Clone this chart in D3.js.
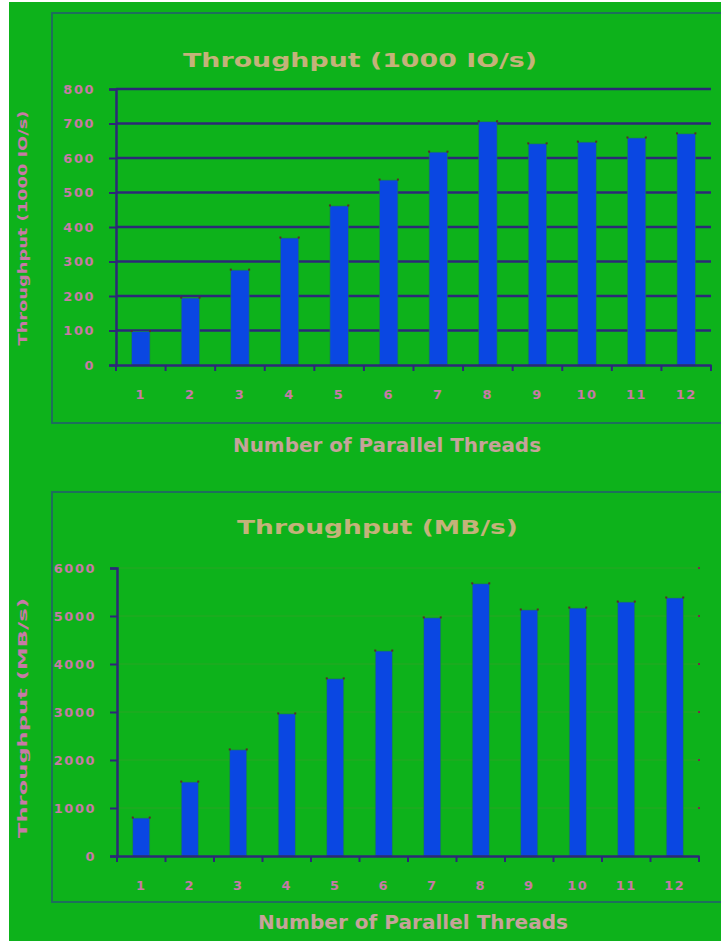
<!DOCTYPE html>
<html>
<head>
<meta charset="utf-8">
<script src="https://cdn.jsdelivr.net/npm/d3@7"></script>
<style>
  html, body { margin: 0; padding: 0; background: #ffffff; }
  svg { display: block; }
  text { font-family: "DejaVu Sans", "Liberation Sans", sans-serif; }
</style>
</head>
<body>
<svg id="chart" width="721" height="941"></svg>
<script>
// Thread counts on the x axis
const threads = ["1", "2", "3", "4", "5", "6", "7", "8", "9", "10", "11", "12"];
// Upper panel: operation throughput per thread count
const iopsValues = [97, 194, 275, 368, 461, 536, 617, 705, 641, 646, 658, 670];
const iopsTicks = [0, 100, 200, 300, 400, 500, 600, 700, 800];
// Lower panel: data throughput per thread count
const mbValues = [790, 1540, 2210, 2960, 3690, 4270, 4960, 5670, 5125, 5165, 5290, 5375];
const mbTicks = [0, 1000, 2000, 3000, 4000, 5000, 6000];

const titles = ["Throughput (1000 IO/s)", "Throughput (MB/s)"];
const xTitle = "Number of Parallel Threads";

const svg = d3.select("#chart");
const GREEN = "#0db21b";
const NAVY = "#2c2878";
const BAR = "#0a47e2";
const FRAME = "#1d6f5c";
const TITLE_FILL = "#c4b27a";
const TICK_FILL = "#c77aa6";
const AXIS_TITLE_FILL = "#c6a39a";

svg.append("rect").attr("x", 9).attr("y", 2).attr("width", 712).attr("height", 939).attr("fill", GREEN);

function drawPanel(cfg) {
  const g = svg.append("g");

  // panel frame
  g.append("rect")
    .attr("x", 52).attr("y", cfg.frameTop)
    .attr("width", 690).attr("height", cfg.frameBottom - cfg.frameTop)
    .attr("fill", "none").attr("stroke", FRAME).attr("stroke-width", 2);

  const x = d3.scaleBand().domain(threads).range(cfg.xRange).paddingInner(0).paddingOuter(0);
  const y = d3.scaleLinear().domain([0, d3.max(cfg.ticks)]).range(cfg.yRange);

  // horizontal gridlines
  g.append("g").selectAll("line")
    .data(cfg.ticks.filter(t => t > 0))
    .join("line")
    .attr("x1", cfg.xRange[0]).attr("x2", cfg.xRange[1])
    .attr("y1", d => y(d)).attr("y2", d => y(d))
    .attr("stroke", cfg.gridColor).attr("stroke-width", cfg.gridWidth);

  if (cfg.gridEndDots) {
    g.append("g").selectAll("rect")
      .data(cfg.ticks.filter(t => t > 0))
      .join("rect")
      .attr("x", cfg.xRange[1] - 1).attr("y", d => y(d) - 1)
      .attr("width", 2).attr("height", 2).attr("fill", "#7a2a4a");
  }

  // bars
  const bw = x.bandwidth() * cfg.barFrac;
  const bars = g.append("g").selectAll("g").data(cfg.values).join("g");
  bars.append("rect")
    .attr("x", (d, i) => x(threads[i]) + (x.bandwidth() - bw) / 2)
    .attr("y", d => y(d))
    .attr("width", bw)
    .attr("height", d => y(0) - y(d))
    .attr("fill", BAR)
    .attr("stroke", "#1c8a3a").attr("stroke-width", 0.6);
  // small corner markers at the bar tops
  [0, 1].forEach(side => {
    bars.append("rect")
      .attr("x", (d, i) => x(threads[i]) + (x.bandwidth() - bw) / 2 + side * bw - 1)
      .attr("y", d => y(d) - 1.5)
      .attr("width", 2).attr("height", 2)
      .attr("fill", "#5a2a2a");
  });

  // y axis
  const yAxis = d3.axisLeft(y).tickValues(cfg.ticks).tickSize(7).tickPadding(14).tickFormat(d3.format("d"));
  const ya = g.append("g").attr("transform", `translate(${cfg.xRange[0]},0)`).call(yAxis);
  ya.select(".domain").attr("stroke", NAVY).attr("stroke-width", 2.5);
  ya.selectAll(".tick line").attr("stroke", NAVY).attr("stroke-width", 2);
  ya.selectAll(".tick text")
    .attr("fill", TICK_FILL).attr("font-size", 13).attr("font-weight", "bold")
    .attr("letter-spacing", 1.5);

  // x axis
  const xAxis = d3.axisBottom(x).tickSize(0).tickPadding(25);
  const xa = g.append("g").attr("transform", `translate(0,${y(0)})`).call(xAxis);
  xa.select(".domain").attr("stroke", NAVY).attr("stroke-width", 2.5);
  xa.selectAll(".tick text")
    .attr("fill", TICK_FILL).attr("font-size", 13).attr("font-weight", "bold")
    .attr("letter-spacing", 1.5);
  // boundary ticks between categories
  const edges = threads.map(t => x(t)).concat([cfg.xRange[1]]);
  g.append("g").selectAll("line").data(edges).join("line")
    .attr("x1", d => d).attr("x2", d => d)
    .attr("y1", y(0)).attr("y2", y(0) + 6)
    .attr("stroke", NAVY).attr("stroke-width", 2);

  // chart title
  g.append("text")
    .attr("x", cfg.titleX0).attr("y", cfg.titleY)
    .attr("textLength", cfg.titleLen).attr("lengthAdjust", "spacingAndGlyphs")
    .attr("font-size", 20).attr("font-weight", "bold")
    .attr("fill", TITLE_FILL)
    .text(cfg.title);

  // x axis title
  g.append("text")
    .attr("x", cfg.xTitleX0).attr("y", cfg.xTitleY)
    .attr("textLength", cfg.xTitleLen).attr("lengthAdjust", "spacingAndGlyphs")
    .attr("font-size", 20).attr("font-weight", "bold")
    .attr("fill", AXIS_TITLE_FILL)
    .text(xTitle);

  // y axis title (rotated, along the left edge)
  g.append("text")
    .attr("transform", `translate(27,${cfg.yTitleMid}) rotate(-90)`)
    .attr("text-anchor", "middle")
    .attr("textLength", cfg.yTitleLen).attr("lengthAdjust", "spacingAndGlyphs")
    .attr("font-size", 13).attr("font-weight", "bold")
    .attr("fill", TICK_FILL)
    .text(cfg.title);
}

drawPanel({
  frameTop: 13, frameBottom: 423,
  xRange: [116, 711], yRange: [365, 89],
  values: iopsValues, ticks: iopsTicks,
  gridColor: NAVY, gridWidth: 2.5, gridEndDots: false, barFrac: 0.37,
  title: titles[0], titleX0: 183, titleY: 67, titleLen: 354,
  xTitleX0: 233, xTitleY: 452, xTitleLen: 308,
  yTitleMid: 228, yTitleLen: 235
});

drawPanel({
  frameTop: 492, frameBottom: 902,
  xRange: [117, 699], yRange: [856, 568],
  values: mbValues, ticks: mbTicks,
  gridColor: "#2aa524", gridWidth: 1, gridEndDots: true, barFrac: 0.35,
  title: titles[1], titleX0: 237, titleY: 534, titleLen: 281,
  xTitleX0: 258, xTitleY: 929, xTitleLen: 310,
  yTitleMid: 718, yTitleLen: 240
});
</script>
</body>
</html>
